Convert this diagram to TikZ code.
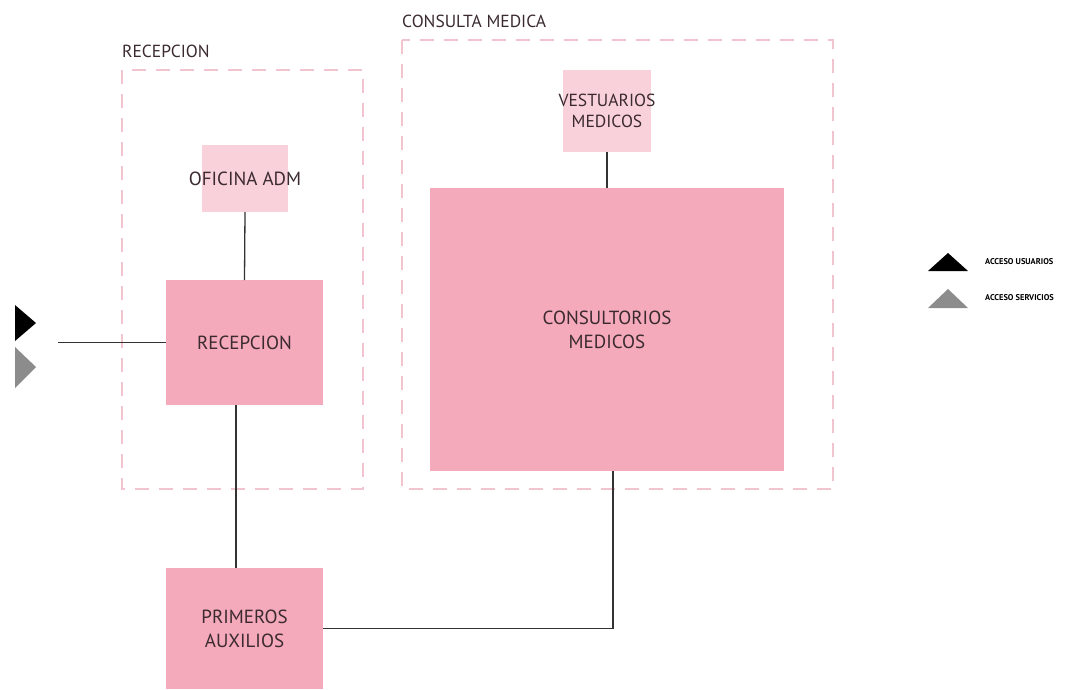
\documentclass[tikz,border=0pt]{standalone}
\usepackage{fontspec}
\setmainfont{PT Sans}
\newcommand{\overtext}[1]{\makebox[0pt][c]{#1}}
\begin{document}
\begin{tikzpicture}[x=1pt,y=-1pt,
  room/.style={fill=roompink, draw=none, inner sep=0pt, outer sep=0pt, anchor=north west,
    align=center, text=textdark, font=\fontsize{19}{24}\selectfont},
  lightroom/.style={room, fill=lightpink},
  zone/.style={draw=zonepink, line width=1.2pt, dash pattern=on 14pt off 10pt},
  zonelabel/.style={anchor=south west, inner sep=0pt, text=textdark, font=\fontsize{17.5}{20}\selectfont},
  link/.style={draw=linegray, line width=1.3pt},
  legendtext/.style={anchor=west, inner sep=0pt, text=black, font=\fontsize{8.4}{10}\selectfont\bfseries}
]
\definecolor{roompink}{HTML}{F4AABB}
\definecolor{lightpink}{HTML}{F9D1DA}
\definecolor{zonepink}{HTML}{F2C4CF}
\definecolor{textdark}{HTML}{3B2A2F}
\definecolor{linegray}{HTML}{333333}
\definecolor{servgray}{HTML}{8C8C8C}

\useasboundingbox (0,0) rectangle (1070,689);

% zones
\draw[zone] (122,70) rectangle (363,489);
\draw[zone] (402,40) rectangle (833,489);
\node[zonelabel] (zrec) at (122,58) {RECEPCION};
\node[zonelabel] (zcon) at (402,28) {CONSULTA MEDICA};

% rooms
\node[lightroom, minimum width=86pt, minimum height=67pt] (ofi) at (202,145) {\overtext{OFICINA ADM}};
\node[room, minimum width=157pt, minimum height=125pt] (rec) at (166,280) {RECEPCION};
\node[lightroom, minimum width=88pt, minimum height=82pt, font=\fontsize{17.5}{21}\selectfont] (ves) at (563,70)
  {\overtext{VESTUARIOS}\\\overtext{MEDICOS}};
\node[room, minimum width=354pt, minimum height=283pt] (con) at (430,188) {CONSULTORIOS\\MEDICOS};
\node[room, minimum width=157pt, minimum height=121pt] (pa) at (166,568) {PRIMEROS\\AUXILIOS};

% connections
\coordinate (in) at (58,342.5);
\draw[link] (in) -- (rec.west);
\draw[link] (ofi.south) -- (rec.north);
\draw[link] ([xshift=-8.5pt]rec.south) -- ([xshift=-8.5pt]pa.north);
\draw[link] (ves.south) -- (con.north);
\draw[link] ([xshift=6pt]con.south) |- (pa.east);

% access markers
\fill[black] (15,305) -- (36,323) -- (15,341) -- cycle;
\fill[servgray] (15,347) -- (36,367) -- (15,388) -- cycle;

% legend
\fill[black] (928,271) -- (948,253) -- (968,271) -- cycle;
\fill[servgray] (928,308) -- (948,289) -- (968,308) -- cycle;
\node[legendtext] (lu) at (985,262) {ACCESO USUARIOS};
\node[legendtext] (ls) at (985,298) {ACCESO SERVICIOS};
\end{tikzpicture}
\end{document}
